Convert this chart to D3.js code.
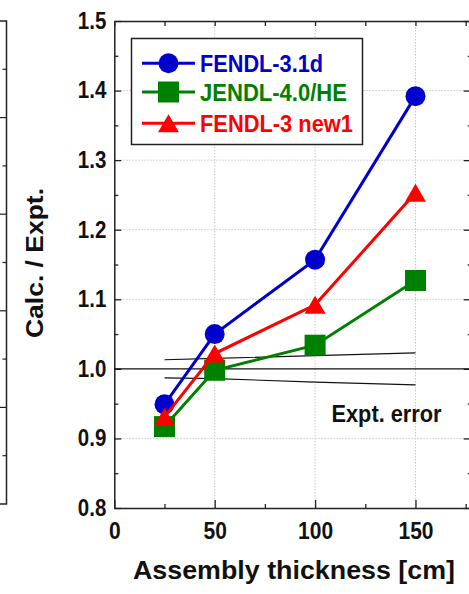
<!DOCTYPE html>
<html>
<head>
<meta charset="utf-8">
<script src="https://cdn.jsdelivr.net/npm/d3@7/dist/d3.min.js"></script>
<style>
  html, body { margin: 0; padding: 0; background: #fff; }
  svg { display: block; }
  text { font-family: "Liberation Sans", Arial, sans-serif; font-weight: bold; }
</style>
</head>
<body>
<svg id="chart" width="469" height="594"></svg>
<script>
// ---- data ----
const thickness = [25, 50, 100, 150];
const seriesNames = ["FENDL-3.1d", "JENDL-4.0/HE", "FENDL-3 new1"];
const fendl31d = [0.949, 1.050, 1.157, 1.392];
const jendl40he = [0.917, 0.998, 1.034, 1.127];
const fendl3new1 = [0.931, 1.022, 1.092, 1.253];
const errUpper = [1.013, 1.015, 1.019, 1.023];
const errLower = [0.987, 0.986, 0.981, 0.977];
const xTicks = [0, 50, 100, 150];
const xMinorTicks = [25, 75, 125, 175];
const yTicks = [0.8, 0.9, 1.0, 1.1, 1.2, 1.3, 1.4, 1.5];
const yMinorTicks = [0.85, 0.95, 1.05, 1.15, 1.25, 1.35, 1.45];
const xTitle = "Assembly thickness [cm]";
const yTitle = "Calc. / Expt.";
const errLabel = "Expt. error";

const colors = ["#0000cc", "#008000", "#ff0000"];
const shapes = ["circle", "square", "triangle"];
const series = [fendl31d, jendl40he, fendl3new1];

const svg = d3.select("#chart");
const L = 114.3, R = 471.7, T = 21, B = 508;
const x = d3.scaleLinear().domain([0, 178]).range([L, R]);
const y = d3.scaleLinear().domain([0.8, 1.5]).range([B, T]);

// condense text: draw at a larger size but keep the width of a smaller size
function condense(sel, ratio) {
  sel.each(function () {
    const len = this.getComputedTextLength();
    if (len > 0) d3.select(this).attr("textLength", len * ratio).attr("lengthAdjust", "spacingAndGlyphs");
  });
}

// ---- partial left panel (neighbouring figure, cut off) ----
const lp = svg.append("g").attr("stroke", "#222").attr("stroke-width", 1.5).attr("fill", "none");
const lpTop = 21, lpBot = 504, lpX = 6.5;
lp.append("path").attr("d", `M0,${lpTop}H${lpX}V${lpBot}H0`);
d3.range(1, 10).forEach(k => {
  const yy = lpTop + (lpBot - lpTop) * k / 10;
  lp.append("line").attr("x1", lpX).attr("x2", lpX - (k % 2 === 0 ? 7 : 4))
    .attr("y1", yy).attr("y2", yy).attr("stroke-width", 1.2);
});

// ---- grid ----
const grid = svg.append("g").attr("stroke", "#c8c8c8").attr("stroke-width", 1).attr("stroke-dasharray", "1.5,1.5");
[50, 100, 150].forEach(v => grid.append("line").attr("x1", x(v)).attr("x2", x(v)).attr("y1", T).attr("y2", B));
[0.9, 1.1, 1.2, 1.3, 1.4].forEach(v => grid.append("line").attr("x1", L).attr("x2", R).attr("y1", y(v)).attr("y2", y(v)));

// ---- axes ----
function styleAxis(g) {
  g.selectAll("path.domain").attr("stroke", "#222").attr("stroke-width", 1.5);
  g.selectAll(".tick line").attr("stroke", "#222").attr("stroke-width", 1.3);
  g.selectAll("text").attr("font-size", 23).attr("fill", "#111")
    .attr("font-family", "'Liberation Sans', Arial, sans-serif").attr("font-weight", "bold");
}
const fmtY = d3.format(".1f");
const xa = svg.append("g").attr("transform", `translate(0,${B})`)
  .call(d3.axisBottom(x).tickValues(xTicks).tickFormat(d3.format("d")).tickSizeInner(-8).tickSizeOuter(0).tickPadding(15))
  .call(styleAxis);
condense(xa.selectAll("text"), 21 / 23);
svg.append("g").attr("transform", `translate(0,${B})`)
  .call(d3.axisBottom(x).tickValues(xMinorTicks).tickFormat("").tickSizeInner(-4).tickSizeOuter(0))
  .call(styleAxis).select("path.domain").remove();
svg.append("g").attr("transform", `translate(0,${T})`)
  .call(d3.axisTop(x).tickValues(xTicks.concat(xMinorTicks)).tickFormat("").tickSizeInner(-5).tickSizeOuter(0))
  .call(styleAxis);
const ya = svg.append("g").attr("transform", `translate(${L},0)`)
  .call(d3.axisLeft(y).tickValues(yTicks).tickFormat(fmtY).tickSizeInner(-7).tickSizeOuter(0).tickPadding(8))
  .call(styleAxis);
condense(ya.selectAll("text"), 20.5 / 23);
svg.append("g").attr("transform", `translate(${L},0)`)
  .call(d3.axisLeft(y).tickValues(yMinorTicks).tickFormat("").tickSizeInner(-4).tickSizeOuter(0))
  .call(styleAxis).select("path.domain").remove();
svg.append("g").attr("transform", `translate(${R},0)`)
  .call(d3.axisRight(y).tickValues(yTicks).tickFormat("").tickSizeInner(-8).tickSizeOuter(0))
  .call(styleAxis);
svg.append("g").attr("transform", `translate(${R},0)`)
  .call(d3.axisRight(y).tickValues(yMinorTicks).tickFormat("").tickSizeInner(-4).tickSizeOuter(0))
  .call(styleAxis).select("path.domain").remove();

// reference line at 1.0
svg.append("line").attr("x1", L).attr("x2", R).attr("y1", y(1.0)).attr("y2", y(1.0))
  .attr("stroke", "#111").attr("stroke-width", 1.3);

// experimental error lines
const errLine = d3.line().x((d, i) => x(thickness[i])).y(d => y(d));
[errUpper, errLower].forEach(arr => {
  svg.append("path").attr("d", errLine(arr)).attr("fill", "none").attr("stroke", "#111").attr("stroke-width", 1.1);
});
svg.append("text").attr("x", 331.5).attr("y", 421.5).attr("font-size", 24).attr("fill", "#111")
  .attr("textLength", 110).attr("lengthAdjust", "spacingAndGlyphs").text(errLabel);

// ---- series ----
function marker(g, shape, cx, cy, color) {
  if (shape === "circle") {
    g.append("circle").attr("cx", cx).attr("cy", cy).attr("r", 10).attr("fill", color);
  } else if (shape === "square") {
    g.append("rect").attr("x", cx - 10.5).attr("y", cy - 10.5).attr("width", 21).attr("height", 21).attr("fill", color);
  } else {
    g.append("path").attr("d", `M${cx},${cy - 9}L${cx + 10.5},${cy + 9}L${cx - 10.5},${cy + 9}Z`).attr("fill", color);
  }
}
const line = d3.line().x((d, i) => x(thickness[i])).y(d => y(d));
series.forEach((vals, si) => {
  const g = svg.append("g");
  g.append("path").attr("d", line(vals)).attr("fill", "none").attr("stroke", colors[si]).attr("stroke-width", 3);
  vals.forEach((v, i) => marker(g, shapes[si], x(thickness[i]), y(v), colors[si]));
});

// ---- legend ----
const leg = svg.append("g");
leg.append("rect").attr("x", 131.5).attr("y", 38.5).attr("width", 231).attr("height", 106)
  .attr("fill", "#fff").attr("stroke", "#222").attr("stroke-width", 1.5);
const legRows = [63.3, 92, 123.3];
const legWidths = [123, 147, 153];
seriesNames.forEach((name, si) => {
  const ry = legRows[si];
  leg.append("line").attr("x1", 142).attr("x2", 195).attr("y1", ry).attr("y2", ry)
    .attr("stroke", colors[si]).attr("stroke-width", 3);
  marker(leg, shapes[si], 168.5, ry, colors[si]);
  leg.append("text").attr("x", 200).attr("y", ry + 9).attr("font-size", 24).attr("fill", colors[si])
    .attr("textLength", legWidths[si]).attr("lengthAdjust", "spacingAndGlyphs").text(name);
});

// ---- titles ----
svg.append("text").attr("x", 133).attr("y", 579).attr("font-size", 25)
  .attr("textLength", 322).attr("lengthAdjust", "spacingAndGlyphs").attr("fill", "#111").text(xTitle);
svg.append("text").attr("transform", "translate(43,263) rotate(-90)").attr("text-anchor", "middle")
  .attr("font-size", 24).attr("textLength", 150).attr("lengthAdjust", "spacingAndGlyphs")
  .attr("fill", "#111").text(yTitle);
</script>
</body>
</html>
